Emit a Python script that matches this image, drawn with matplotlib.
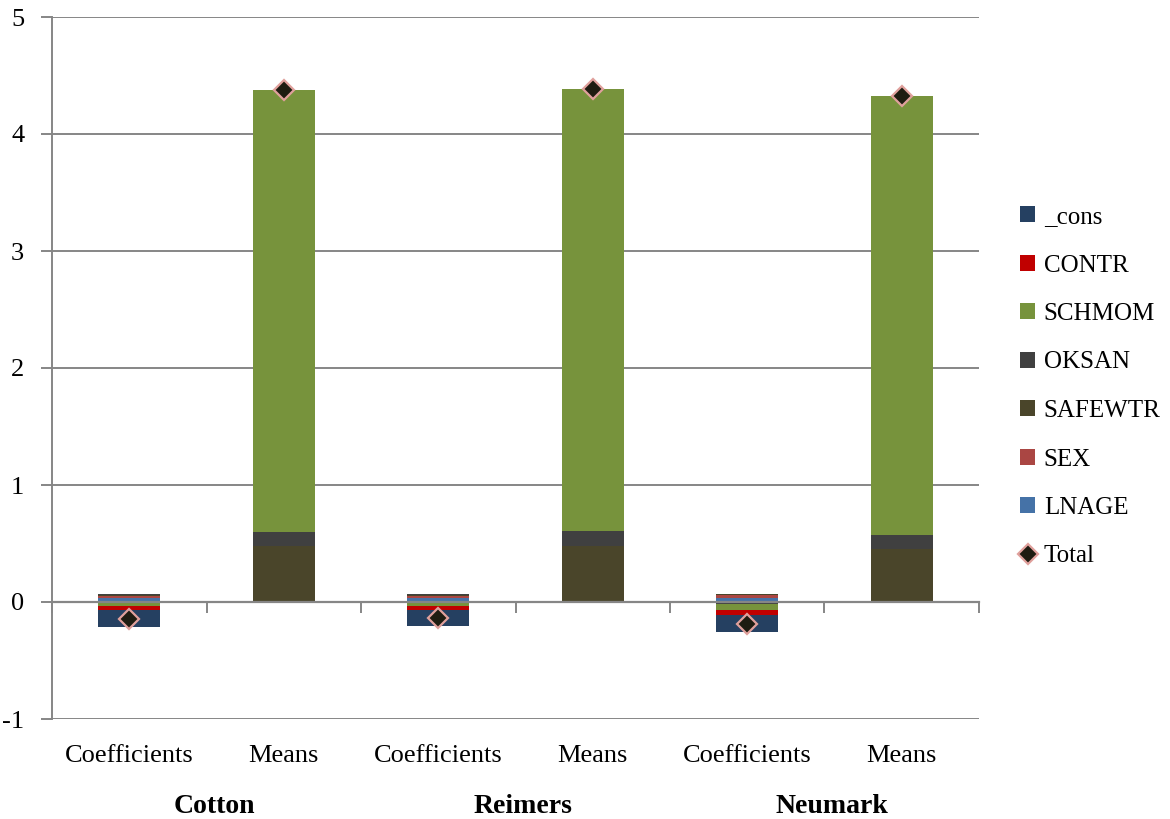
import numpy as np
import matplotlib.pyplot as plt
from matplotlib.patches import Patch
from matplotlib.lines import Line2D
import matplotlib.transforms as mtransforms

plt.rcParams['font.family'] = ['Liberation Serif', 'DejaVu Serif']
plt.rcParams['axes.unicode_minus'] = False

# Balken: Koeffizienten und Mittelwerte je Verfahren
groups = ['Cotton', 'Reimers', 'Neumark']
bar_labels = ['Coefficients', 'Means'] * 3

# Reihen in Stapelreihenfolge (unten zuerst)
series = ['LNAGE', 'SEX', 'SAFEWTR', 'OKSAN', 'SCHMOM', 'CONTR', '_cons']
LNAGE = [0.031, 0.0, 0.031, 0.0, 0.037, 0.0]
SEX = [0.020, 0.0, 0.020, 0.0, 0.022, 0.0]
SAFEWTR = [0.008, 0.475, 0.008, 0.475, 0.006, 0.452]
OKSAN = [0.012, 0.127, 0.012, 0.128, -0.020, 0.117]
SCHMOM = [-0.032, 3.776, -0.031, 3.782, -0.048, 3.756]
CONTR = [-0.038, 0.0, -0.037, 0.0, -0.040, 0.0]
_cons = [-0.145, 0.0, -0.140, 0.0, -0.148, 0.0]
Total = [-0.144, 4.378, -0.137, 4.385, -0.191, 4.325]

colors = {
    'LNAGE': '#4572A7',
    'SEX': '#AA4643',
    'SAFEWTR': '#4A452A',
    'OKSAN': '#404040',
    'SCHMOM': '#77933C',
    'CONTR': '#C00000',
    '_cons': '#254061',
}
values = {'LNAGE': LNAGE, 'SEX': SEX, 'SAFEWTR': SAFEWTR, 'OKSAN': OKSAN,
          'SCHMOM': SCHMOM, 'CONTR': CONTR, '_cons': _cons}

fs = 19

fig = plt.figure(figsize=(11.7, 8.19), dpi=100)
ax = fig.add_axes([52 / 1170, 1 - 719 / 819, (979 - 52) / 1170, (719 - 17) / 819])

x = np.arange(len(bar_labels))
pos_base = np.zeros(len(x))
neg_base = np.zeros(len(x))
for name in series:
    v = np.array(values[name])
    base = np.where(v >= 0, pos_base, neg_base)
    ax.bar(x, v, width=0.4, bottom=base, color=colors[name], zorder=3)
    pos_base = pos_base + np.where(v >= 0, v, 0)
    neg_base = neg_base + np.where(v < 0, v, 0)

ax.plot(x, Total, linestyle='none', marker='D', markersize=10,
        markerfacecolor='#1E1C11', markeredgecolor='#E0A09C',
        markeredgewidth=1.6, zorder=5)

grid_c = '#868686'
ax.set_xlim(-0.5, 5.5)
ax.set_ylim(-1, 5)
ax.set_yticks(range(-1, 6))
ax.yaxis.grid(True, color=grid_c, linewidth=1.4, zorder=0)
ax.tick_params(axis='y', length=8, width=1.4, color=grid_c, labelsize=fs, pad=12)

for s in ['top', 'right']:
    ax.spines[s].set_visible(False)
ax.spines['left'].set_color(grid_c)
ax.spines['left'].set_linewidth(1.4)
ax.spines['bottom'].set_position(('data', 0))
ax.spines['bottom'].set_color(grid_c)
ax.spines['bottom'].set_linewidth(1.6)
ax.spines['bottom'].set_zorder(4)

ax.set_xticks(x)
ax.set_xticklabels([])
ax.tick_params(axis='x', which='major', length=0)
ax.set_xticks(np.arange(-0.5, 6, 1.0), minor=True)
ax.tick_params(axis='x', which='minor', length=8, width=1.4, color=grid_c,
               direction='out')

trans = mtransforms.blended_transform_factory(ax.transData, ax.transAxes)
for xi, lab in zip(x, bar_labels):
    ax.text(xi, -0.052, lab, transform=trans, ha='center', va='center',
            fontsize=fs)
for i, g in enumerate(groups):
    ax.text(2 * i + 0.55, -0.125, g, transform=trans, ha='center',
            va='center', fontsize=fs + 1, fontweight='bold')

handles = [Patch(facecolor=colors[n], edgecolor='none') for n in series[::-1]]
handles.append(Line2D([], [], linestyle='none', marker='D', markersize=10,
                      markerfacecolor='#1E1C11', markeredgecolor='#E0A09C',
                      markeredgewidth=1.6))
labels = series[::-1] + ['Total']
fig.legend(handles, labels, loc='upper left',
           bbox_to_anchor=(1010 / 1170, 1 - 196 / 819), frameon=False,
           fontsize=18, labelspacing=1.06, handlelength=0.6,
           handleheight=0.6, handletextpad=0.35, borderaxespad=0)

fig.savefig('out.png', dpi=100)
